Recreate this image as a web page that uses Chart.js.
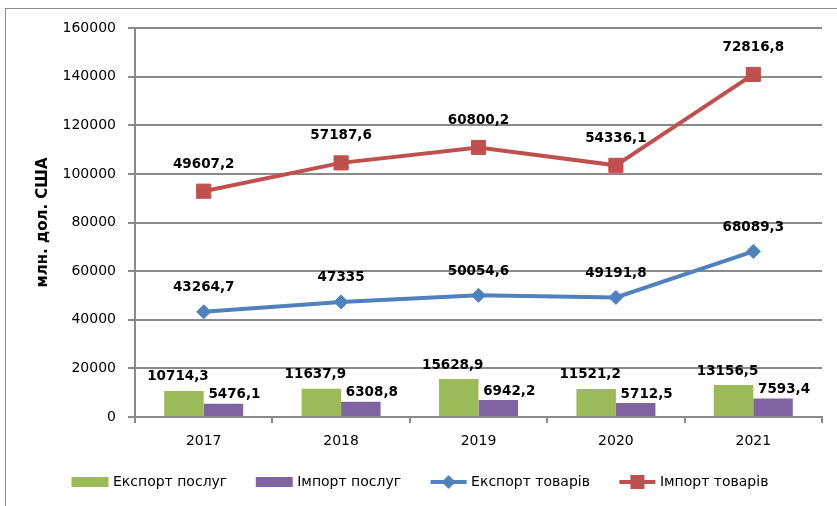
<!DOCTYPE html>
<html>
<head>
<meta charset="utf-8">
<script src="https://cdn.jsdelivr.net/npm/chart.js@4.4.1/dist/chart.umd.min.js"></script>
<style>
  html, body { margin: 0; padding: 0; background: #fff; overflow: hidden; }
  #wrap { position: relative; width: 837px; height: 506px; }
  #frame { position: absolute; left: 5px; top: 8px; width: 900px; height: 600px; border: 1px solid #8c8c8c; }
  #box { position: absolute; left: 0; top: 0; width: 837px; height: 506px; }
</style>
</head>
<body>
<div id="wrap">
  <div id="frame"></div>
  <div id="box"><canvas id="chart"></canvas></div>
</div>
<script>
const years = ['2017', '2018', '2019', '2020', '2021'];
const exportServices = [10714.3, 11637.9, 15628.9, 11521.2, 13156.5];
const importServices = [5476.1, 6308.8, 6942.2, 5712.5, 7593.4];
const exportGoods = [43264.7, 47335, 50054.6, 49191.8, 68089.3];
const importGoods = [49607.2, 57187.6, 60800.2, 54336.1, 72816.8];
const yTicks = [0, 20000, 40000, 60000, 80000, 100000, 120000, 140000, 160000];

const GREEN = '#9bbb59';
const PURPLE = '#8064a2';
const BLUE = '#4f81bd';
const RED = '#c0504d';
const GRID = '#8a8a8a';

// legend icon, drawn off-centre so the text sits close to it
function legendIcon(color, kind) {
    let c = document.createElement('canvas');
    c.width = 60;
    c.height = 16;
    let g = c.getContext('2d');
    let o = 22;
    g.fillStyle = color;
    if (kind == 'box') {
        g.fillRect(o, 3, 37, 10);
    } else {
        g.strokeStyle = color;
        g.lineWidth = 4;
        g.beginPath();
        g.moveTo(o + 1, 8);
        g.lineTo(o + 37, 8);
        g.stroke();
        g.beginPath();
        if (kind == 'diamond') {
            g.moveTo(o + 19, 1); g.lineTo(o + 26, 8); g.lineTo(o + 19, 15); g.lineTo(o + 12, 8);
        } else {
            g.rect(o + 12, 1, 14, 14);
        }
        g.fill();
    }
    return c;
}

const icons = [
    legendIcon(GREEN, 'box'),
    legendIcon(PURPLE, 'box'),
    legendIcon(BLUE, 'diamond'),
    legendIcon(RED, 'square')
];

function fmt(v) {
    return String(v).replace('.', ',');
}

// value labels above bars and points (raw values, not stacked totals)
const valueLabels = {
    id: 'valueLabels',
    afterDatasetsDraw(chart) {
        const ctx = chart.ctx;
        ctx.save();
        ctx.font = 'bold 13.5px "DejaVu Sans"';
        ctx.fillStyle = '#000';
        ctx.textAlign = 'center';
        ctx.textBaseline = 'middle';
        chart.data.datasets.forEach((ds, i) => {
            const meta = chart.getDatasetMeta(i);
            meta.data.forEach((el, j) => {
                ctx.fillText(fmt(ds.data[j]), el.x + ds.labelDx, el.y + ds.labelDy);
            });
        });
        ctx.restore();
    }
};

Chart.defaults.font.family = '"DejaVu Sans"';
Chart.defaults.font.size = 14;
Chart.defaults.color = '#000';

const ctx = document.getElementById('chart').getContext('2d');
new Chart(ctx, {
    data: {
        labels: years,
        datasets: [
            {
                type: 'bar', label: 'Експорт послуг', data: exportServices,
                backgroundColor: GREEN, stack: 'exp', labelDx: -6, labelDy: -14,
                barPercentage: 1, categoryPercentage: 0.575
            },
            {
                type: 'bar', label: 'Імпорт послуг', data: importServices,
                backgroundColor: PURPLE, stack: 'imp', labelDx: 11, labelDy: -9,
                barPercentage: 1, categoryPercentage: 0.575
            },
            {
                type: 'line', label: 'Експорт товарів', data: exportGoods,
                borderColor: BLUE, backgroundColor: BLUE, borderWidth: 4,
                pointStyle: 'rectRot', pointRadius: 7, pointBorderWidth: 1,
                stack: 'goods', labelDx: 0, labelDy: -24, tension: 0
            },
            {
                type: 'line', label: 'Імпорт товарів', data: importGoods,
                borderColor: RED, backgroundColor: RED, borderWidth: 4,
                pointStyle: 'rect', pointRadius: 10, pointBorderWidth: 1,
                stack: 'goods', labelDx: 0, labelDy: -27, tension: 0
            }
        ]
    },
    options: {
        responsive: true,
        maintainAspectRatio: false,
        animation: false,
        layout: { padding: { left: 43, right: 15, top: 28, bottom: 7 } },
        scales: {
            x: {
                offset: true,
                grid: { display: true, drawOnChartArea: false, drawTicks: true, tickLength: 6, color: GRID, lineWidth: 2, offset: true },
                border: { color: GRID, width: 2 },
                ticks: { padding: 10 },
                afterFit: (s) => { s.height = 48; }
            },
            y: {
                stacked: true,
                min: 0,
                max: 160000,
                afterBuildTicks: (s) => { s.ticks = yTicks.map(v => ({ value: v })); },
                ticks: { padding: 12, callback: (v) => String(v) },
                grid: { color: GRID, lineWidth: 2, tickLength: 7 },
                border: { color: GRID, width: 2 },
                title: { display: true, text: 'млн. дол. США', font: { weight: 'bold', size: 15 }, padding: { top: -9, bottom: 0 } },
                afterFit: (s) => { s.width = 92; }
            }
        },
        plugins: {
            legend: {
                position: 'bottom',
                align: 'start',
                labels: {
                    usePointStyle: true,
                    pointStyleWidth: 53,
                    padding: 10,
                    color: '#000',
                    generateLabels: (chart) => chart.data.datasets.map((ds, i) => ({
                        text: ds.label,
                        pointStyle: icons[i],
                        datasetIndex: i,
                        hidden: false,
                        fontColor: '#000',
                        lineWidth: 0,
                        strokeStyle: 'transparent',
                        fillStyle: 'transparent'
                    }))
                }
            },
            tooltip: { enabled: false }
        }
    },
    plugins: [valueLabels]
});
</script>
</body>
</html>
